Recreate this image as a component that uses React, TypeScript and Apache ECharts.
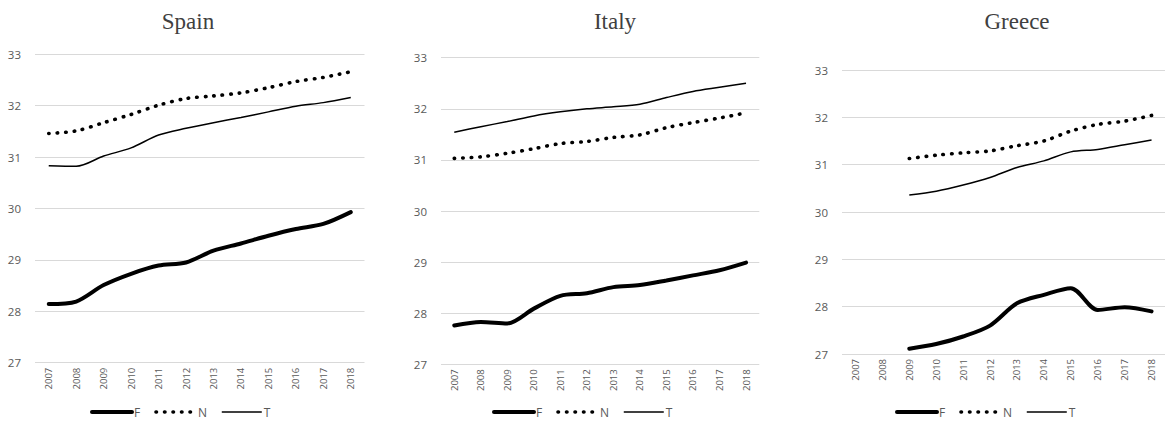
import React, { useEffect, useRef } from "react";
import * as echarts from "echarts";

// Years on the category axis
const years = ["2007", "2008", "2009", "2010", "2011", "2012", "2013", "2014", "2015", "2016", "2017", "2018"];

// Spain
const spainF = [28.14, 28.19, 28.51, 28.73, 28.89, 28.95, 29.18, 29.32, 29.47, 29.6, 29.7, 29.93];
const spainN = [31.46, 31.51, 31.67, 31.83, 32.01, 32.14, 32.19, 32.25, 32.35, 32.47, 32.55, 32.66];
const spainT = [30.83, 30.82, 31.02, 31.18, 31.43, 31.56, 31.67, 31.77, 31.88, 31.99, 32.06, 32.16];

// Italy
const italyF = [27.76, 27.83, 27.8, 28.09, 28.34, 28.39, 28.51, 28.55, 28.64, 28.74, 28.84, 28.99];
const italyN = [31.03, 31.06, 31.13, 31.22, 31.32, 31.36, 31.44, 31.49, 31.63, 31.73, 31.82, 31.92];
const italyT = [31.54, 31.65, 31.75, 31.86, 31.94, 32.0, 32.04, 32.09, 32.22, 32.34, 32.42, 32.5];

// Greece (no data for 2007-2008)
const greeceF = [null, null, 27.11, 27.21, 27.37, 27.6, 28.07, 28.25, 28.39, 27.93, 27.99, 27.9];
const greeceN = [null, null, 31.13, 31.2, 31.25, 31.29, 31.4, 31.5, 31.71, 31.85, 31.92, 32.04];
const greeceT = [null, null, 30.36, 30.44, 30.57, 30.73, 30.94, 31.08, 31.27, 31.32, 31.42, 31.52];

const seriesNames = ["F", "N", "T"] as const;
const yTicks = { min: 27, max: 33, interval: 1 };

const panels = [
  { title: "Spain", F: spainF, N: spainN, T: spainT, grid: { left: 35, top: 54.3, width: 329.5, height: 308.4 }, titleX: 188, legendX: 90 },
  { title: "Italy", F: italyF, N: italyN, T: italyT, grid: { left: 441, top: 57.7, width: 318.3, height: 306.6 }, titleX: 615, legendX: 492 },
  { title: "Greece", F: greeceF, N: greeceN, T: greeceT, grid: { left: 842, top: 70, width: 323, height: 284 }, titleX: 1017, legendX: 895 },
];

const LABEL = "#595959";
const GRIDLINE = "#d9d9d9";

const lineStyles: Record<string, any> = {
  F: { color: "#000", width: 4, cap: "round" },
  N: { color: "#000", width: 3.6, type: [0.5, 8], cap: "round" },
  T: { color: "#000", width: 1.5 },
};

function buildOption() {
  const grid: any[] = [];
  const xAxis: any[] = [];
  const yAxis: any[] = [];
  const series: any[] = [];
  const legend: any[] = [];
  const graphic: any[] = [];

  panels.forEach((p, i) => {
    grid.push({ ...p.grid, containLabel: false });
    xAxis.push({
      type: "category",
      gridIndex: i,
      data: years,
      boundaryGap: true,
      axisLine: { show: false },
      axisTick: { show: false },
      axisLabel: {
        rotate: 90,
        interval: 0,
        margin: 5,
        color: LABEL,
        fontSize: 9.5,
        fontFamily: "Open Sans",
      },
    });
    yAxis.push({
      type: "value",
      gridIndex: i,
      ...yTicks,
      axisLine: { show: false },
      axisTick: { show: false },
      splitLine: { lineStyle: { color: GRIDLINE, width: 1 } },
      axisLabel: { color: LABEL, fontSize: 11.5, margin: 14, fontFamily: "Open Sans" },
    });
    seriesNames.forEach((k) => {
      series.push({
        name: k,
        type: "line",
        xAxisIndex: i,
        yAxisIndex: i,
        data: p[k],
        smooth: 0.3,
        showSymbol: false,
        symbol: "none",
        color: "#000",
        itemStyle: { color: "#000" },
        lineStyle: lineStyles[k],
        connectNulls: false,
      });
    });
    legend.push({
      data: seriesNames.map((k) => ({
        name: k,
        itemStyle: { opacity: 0 },
        lineStyle: { ...lineStyles[k] },
      })),
      left: p.legendX,
      top: 406,
      padding: 0,
      itemWidth: 40,
      itemHeight: 14,
      itemGap: 14,
      selectedMode: false,
      itemStyle: { opacity: 0 },
      textStyle: { color: LABEL, fontSize: 12, fontFamily: "Open Sans", padding: [0, 0, 0, -3] },
    });
    graphic.push({
      type: "text",
      x: p.titleX,
      y: 21,
      style: {
        text: p.title,
        fill: "#404040",
        font: '23px "Liberation Serif"',
        textAlign: "center",
        textVerticalAlign: "middle",
      },
    });
  });

  return {
    animation: false,
    backgroundColor: "#ffffff",
    grid,
    xAxis,
    yAxis,
    series,
    legend,
    graphic,
  };
}

export default function App() {
  const ref = useRef<HTMLDivElement>(null);
  useEffect(() => {
    if (!ref.current) return;
    const chart = echarts.init(ref.current, undefined, { renderer: "svg" });
    chart.setOption(buildOption());
    return () => chart.dispose();
  }, []);
  return (
    <div
      ref={ref}
      style={{ position: "fixed", left: 0, top: 0, width: 1167, height: 421, background: "#fff" }}
    />
  );
}
